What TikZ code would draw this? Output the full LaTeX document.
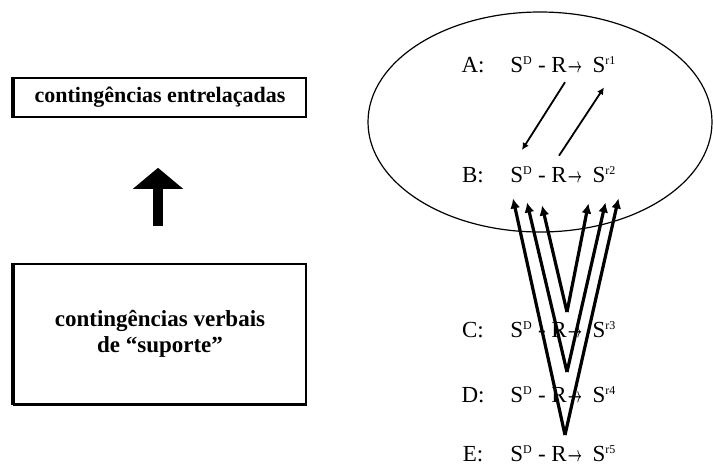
\documentclass[tikz,border=0pt]{standalone}
\usepackage{fontspec}
\setmainfont{Liberation Serif}
\usetikzlibrary{arrows.meta,calc,shapes.geometric}
\newcommand\mysup[1]{\raisebox{8pt}{\fontsize{12}{12}\selectfont #1}}
\newcommand\myarr{\raisebox{0pt}{\scalebox{0.6}[1]{\fontsize{20}{20}\selectfont$\boldsymbol{\rightarrow}$}}}
\usepackage{amsmath}
\begin{document}
\begin{tikzpicture}[x=1pt,y=-1pt,
  box/.style={draw, line width=1.6pt, inner sep=0pt},
  sym/.style={font=\fontsize{23}{26}\selectfont, inner sep=0pt, anchor=base},
  varr/.style={line width=3.2pt, -{Latex[length=10pt,width=10pt]}},
  iarr/.style={line width=1.8pt, -{Latex[length=7pt,width=7pt]}},
]
\useasboundingbox (0,0) rectangle (713,466);

% left boxes
\node[box, minimum width=292pt, minimum height=39pt,
      font=\bfseries\fontsize{22}{24}\selectfont] (top) at (160,97.5) {contingências entrelaçadas};
\draw[line width=3.5pt] (top.north west) -- (top.south west);
\node[box, minimum width=292pt, minimum height=140pt, align=center,
      font=\bfseries\fontsize{23}{26}\selectfont] (bot) at (160,334) {contingências verbais\\de “suporte”};
\draw[line width=4pt] (bot.north west) -- (bot.south west);
\draw[line width=3pt] (bot.south west) -- (bot.south east);

% big arrow
\coordinate (upS) at ($(bot.north)+(-2,-37)$);
\coordinate (upT) at ($(top.south)+(-2,50)$);
\draw[line width=10pt, -{Triangle[length=21pt,width=49pt]}] (upS) -- (upT);

% ellipse
\node[draw, ellipse, line width=1.2pt, minimum width=344pt, minimum height=220pt, inner sep=0pt] (ell) at (540,122) {};

% rows
\foreach \r/\lab/\yb/\sup in {A/A/72/r1, B/B/182/r2, C/C/337/r3, D/D/402/r4, E/E/461/r5}{
  \node[sym] (l\r) at (473,\yb) {\lab:};
  \node[sym] (sd\r) at (521,\yb) {S\mysup{D}};
  \node[sym] (m\r) at (542,\yb) {-};
  \node[sym] (r\r) at (559,\yb) {R};
  \node[sym] (a\r) at (575,\yb) {\myarr};
  \node[sym] (sr\r) at (604,\yb) {S\mysup{\sup}};
}

% inner arrows between A and B
\draw[iarr] ($(rA.south)+(6,10)$) -- ($(sdB.north)+(1,-16)$);
\draw[iarr] ($(rB.north)+(0,-11)$) -- ($(srA.south)+(0,15)$);

% V arrows
\coordinate (v1) at (567,312);
\coordinate (v2) at (567,372);
\coordinate (v3) at (565,435);
\draw[varr] (v1) -- ($(sdB.south)+(21,23)$);
\draw[varr] (v1) -- ($(srB.south)+(-15.5,21)$);
\draw[varr] (v2) -- ($(sdB.south)+(6,20)$);
\draw[varr] (v2) -- ($(srB.south)+(1.5,20)$);
\draw[varr] (v3) -- ($(sdB.south)+(-8,16)$);
\draw[varr] (v3) -- ($(srB.south)+(14.5,16)$);
\end{tikzpicture}
\end{document}
